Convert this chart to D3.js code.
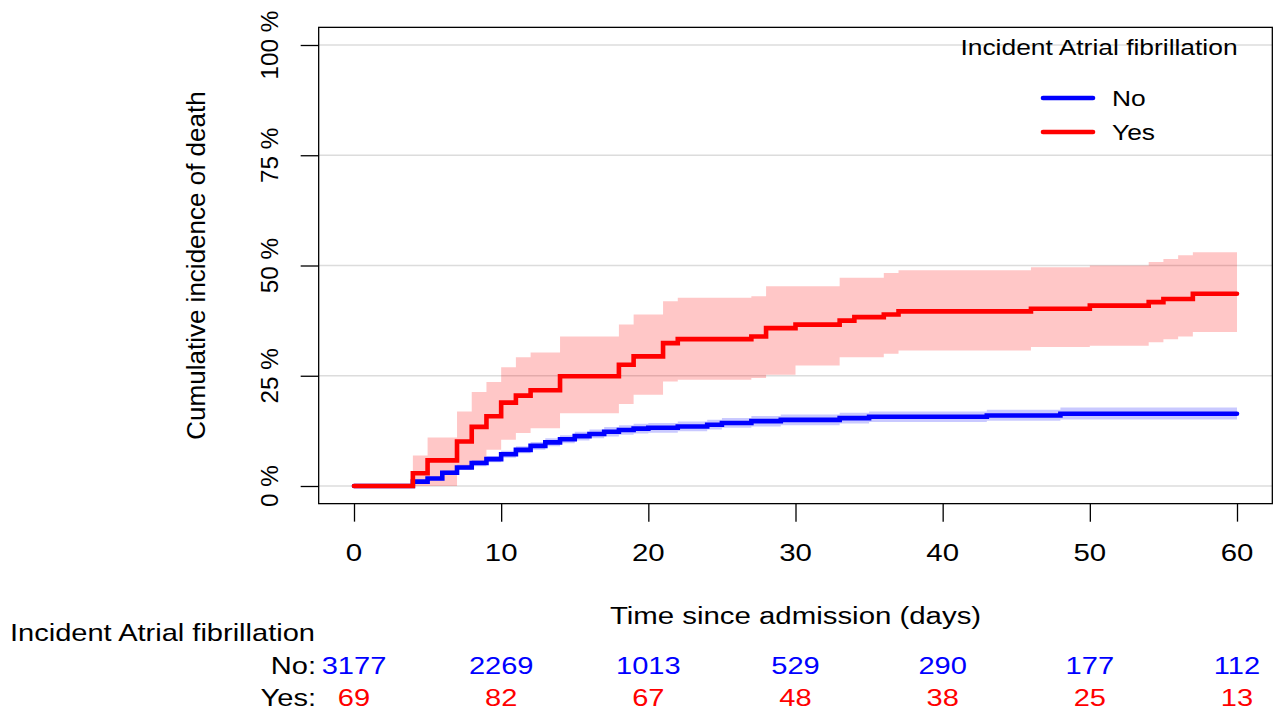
<!DOCTYPE html>
<html>
<head>
<meta charset="utf-8">
<script src="https://cdn.jsdelivr.net/npm/d3@7"></script>
<style>
  html, body { margin: 0; padding: 0; background: #ffffff; }
  svg { display: block; }
  text { font-family: "Liberation Sans", Arial, sans-serif; }
</style>
</head>
<body>
<svg id="chart" width="1277" height="713"></svg>
<script>
// ---------------- DATA ----------------
const xTicks = [0, 10, 20, 30, 40, 50, 60];
const yTicks = [0, 0.25, 0.5, 0.75, 1];
const yTickLabels = ["0 %", "25 %", "50 %", "75 %", "100 %"];
const followUpEnd = 60;
const groups = ["No", "Yes"];
const groupColors = ["#0000FF", "#FF0000"];
const groupBands = ["rgba(0,0,255,0.21)", "rgba(255,0,0,0.22)"];

// Group "No" (blue) cumulative incidence (%), step function
const noTimes  = [0, 4, 5, 6, 7, 8, 9, 10, 11, 12, 13, 14, 15, 16, 17, 18, 19, 20, 22, 24, 25, 27, 29, 33, 35, 43, 48];
const noEst    = [0, 1.0, 1.7, 3.0, 4.2, 5.2, 6.1, 7.2, 8.2, 9.1, 9.9, 10.6, 11.3, 11.8, 12.3, 12.7, 13.0, 13.2, 13.5, 13.9, 14.3, 14.7, 15.0, 15.4, 15.7, 16.0, 16.4];
const noLower  = [0, 0.7, 1.3, 2.5, 3.6, 4.5, 5.4, 6.4, 7.4, 8.2, 9.0, 9.7, 10.3, 10.8, 11.2, 11.6, 11.9, 12.1, 12.4, 12.8, 13.2, 13.5, 13.8, 14.2, 14.5, 14.8, 15.1];
const noUpper  = [0, 1.3, 2.1, 3.5, 4.8, 5.9, 6.8, 8.0, 9.0, 10.0, 10.8, 11.5, 12.3, 12.8, 13.4, 13.8, 14.1, 14.3, 14.6, 15.0, 15.4, 15.9, 16.2, 16.6, 16.9, 17.3, 17.8];

// Group "Yes" (red) cumulative incidence (%), step function
const yesTimes = [0, 4, 5, 7, 8, 9, 10, 11, 12, 14, 18, 19, 21, 22, 27, 28, 30, 33, 34, 36, 37, 46, 50, 54, 55, 56, 57];
const yesEst   = [0, 2.9, 5.8, 10.1, 13.4, 15.8, 18.9, 20.5, 21.7, 24.9, 27.5, 29.4, 32.4, 33.3, 33.9, 35.8, 36.6, 37.5, 38.3, 38.9, 39.6, 40.2, 40.9, 41.7, 42.4, 42.4, 43.6];
const yesLower = [0, 0, 0, 3.9, 5.2, 8.2, 10.5, 12.0, 13.1, 16.5, 18.6, 20.7, 23.7, 24.1, 24.5, 25.2, 27.3, 29.2, 29.2, 30.0, 30.7, 31.5, 31.8, 32.6, 33.3, 33.9, 34.9];
const yesUpper = [0, 6.9, 11.0, 16.9, 21.3, 23.6, 26.9, 29.2, 30.3, 33.9, 36.6, 38.9, 41.9, 42.7, 43.0, 45.3, 45.3, 47.2, 47.2, 48.3, 48.9, 49.6, 50.0, 50.8, 51.5, 52.3, 53.0];

// Numbers at risk
const riskNo  = [3177, 2269, 1013, 529, 290, 177, 112];
const riskYes = [69, 82, 67, 48, 38, 25, 13];

const xTitle = "Time since admission (days)";
const yTitle = "Cumulative incidence of death";
const legendTitle = "Incident Atrial fibrillation";
const riskTitle = "Incident Atrial fibrillation";

// ---------------- DRAW ----------------
const svg = d3.select("#chart");
const K = 1.2; // horizontal text stretch of the original rendering

const x = d3.scaleLinear().domain([0, 60]).range([354, 1237]);
const y = d3.scaleLinear().domain([0, 1]).range([486, 45]);

const xL = x(-2.4), xR = x(62.4), yT = y(1.04), yB = y(-0.04);

function htext(px, py, str, size, anchor, color) {
  return svg.append("text")
    .attr("transform", `translate(${px},${py}) scale(${K},1)`)
    .attr("text-anchor", anchor)
    .attr("font-size", size)
    .attr("fill", color || "#000")
    .text(str);
}
function vtext(px, py, str, size) {
  return svg.append("text")
    .attr("transform", `translate(${px},${py}) rotate(-90)`)
    .attr("text-anchor", "middle")
    .attr("font-size", size)
    .attr("fill", "#000")
    .text(str);
}

// grid
svg.append("g").selectAll("line").data(yTicks).join("line")
  .attr("x1", xL).attr("x2", xR)
  .attr("y1", d => y(d)).attr("y2", d => y(d))
  .attr("stroke", "#dcdcdc").attr("stroke-width", 1.3);

function series(times, est, lo, hi) {
  const rows = times.map((t, i) => ({ t, e: est[i] / 100, lo: lo[i] / 100, hi: hi[i] / 100 }));
  const last = rows[rows.length - 1];
  rows.push({ t: followUpEnd, e: last.e, lo: last.lo, hi: last.hi });
  return rows;
}
const sNo = series(noTimes, noEst, noLower, noUpper);
const sYes = series(yesTimes, yesEst, yesLower, yesUpper);

const area = d3.area().curve(d3.curveStepAfter)
  .x(d => x(d.t)).y0(d => y(d.lo)).y1(d => y(d.hi));
const line = d3.line().curve(d3.curveStepAfter)
  .x(d => x(d.t)).y(d => y(d.e));

const bandStart = 4;
svg.append("path").datum(sYes.filter(d => d.t >= bandStart))
  .attr("d", area).attr("fill", groupBands[1]).attr("stroke", "none");
svg.append("path").datum(sNo.filter(d => d.t >= bandStart))
  .attr("d", area).attr("fill", groupBands[0]).attr("stroke", "none");

svg.append("path").datum(sNo).attr("d", line)
  .attr("fill", "none").attr("stroke", groupColors[0]).attr("stroke-width", 4.6)
  .attr("stroke-linecap", "round").attr("stroke-linejoin", "miter");
svg.append("path").datum(sYes).attr("d", line)
  .attr("fill", "none").attr("stroke", groupColors[1]).attr("stroke-width", 4.6)
  .attr("stroke-linecap", "round").attr("stroke-linejoin", "miter");

// box
svg.append("rect").attr("x", xL).attr("y", yT).attr("width", xR - xL).attr("height", yB - yT)
  .attr("fill", "none").attr("stroke", "#000").attr("stroke-width", 1.3);

// x axis
const xAxis = svg.append("g").attr("transform", `translate(0,${yB})`)
  .call(d3.axisBottom(x).tickValues(xTicks).tickSize(18).tickFormat(""));
xAxis.select(".domain").remove();
xAxis.selectAll("line").attr("stroke", "#000").attr("stroke-width", 1.3);
xTicks.forEach(t => htext(x(t), 561, String(t), 24.5, "middle"));

// y axis
const yAxis = svg.append("g").attr("transform", `translate(${xL},0)`)
  .call(d3.axisLeft(y).tickValues(yTicks).tickSize(18).tickFormat(""));
yAxis.select(".domain").remove();
yAxis.selectAll("line").attr("stroke", "#000").attr("stroke-width", 1.3);
yTicks.forEach((t, i) => vtext(278, y(t), yTickLabels[i], 24.3));

// titles
htext((xL + xR) / 2, 624, xTitle, 24.5, "middle");
vtext(205, (y(0) + y(1)) / 2, yTitle, 26);

// legend
htext(1099, 55, legendTitle, 22, "middle");
const legY = [98, 132];
groups.forEach((g, i) => {
  svg.append("line").attr("x1", 1043).attr("x2", 1093).attr("y1", legY[i]).attr("y2", legY[i])
    .attr("stroke", groupColors[i]).attr("stroke-width", 4.6).attr("stroke-linecap", "round");
  htext(1112, legY[i] + 8, g, 22, "start");
});

// risk table
htext(10, 641, riskTitle, 24.2, "start");
htext(316, 674, "No:", 24.2, "end");
htext(316, 706, "Yes:", 24.2, "end");
xTicks.forEach((t, i) => {
  htext(x(t), 674, String(riskNo[i]), 24.2, "middle", groupColors[0]);
  htext(x(t), 706, String(riskYes[i]), 24.2, "middle", groupColors[1]);
});
</script>
</body>
</html>
